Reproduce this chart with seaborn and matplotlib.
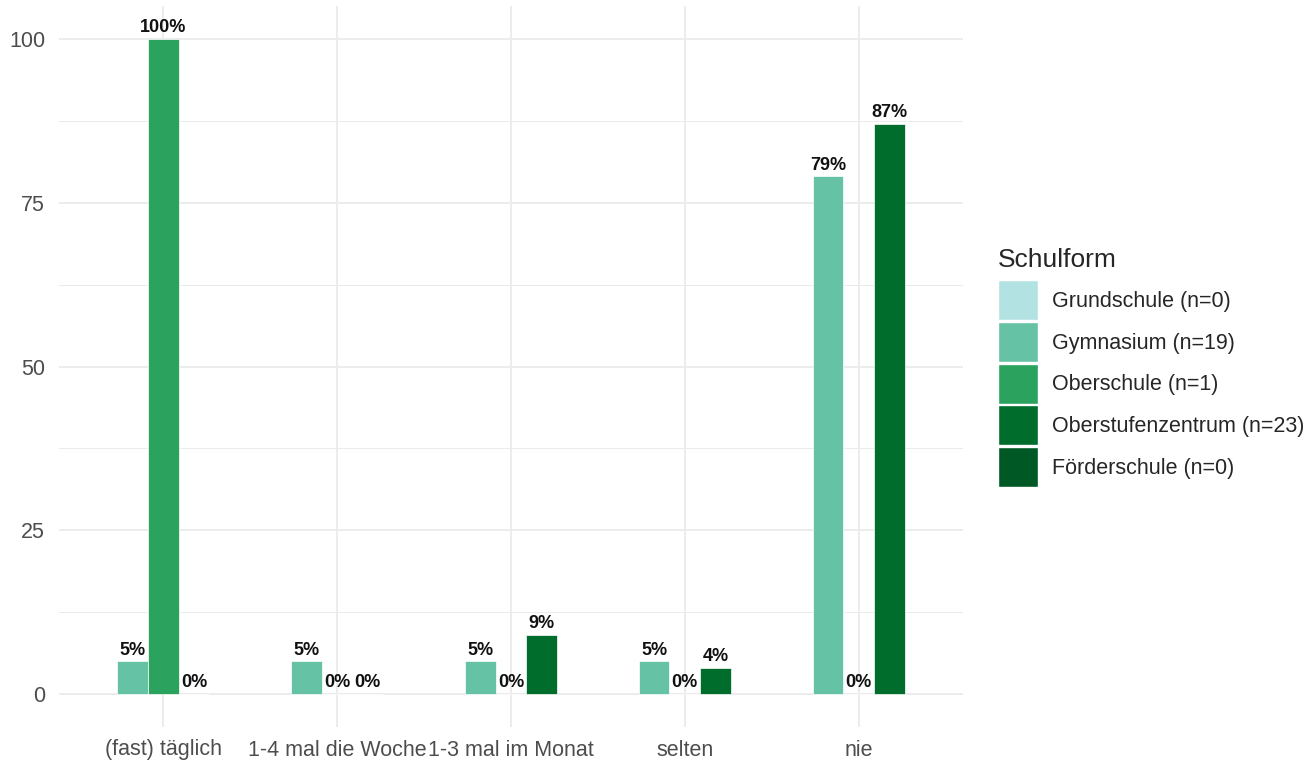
import matplotlib
matplotlib.use("Agg")
import matplotlib.pyplot as plt
import matplotlib.patches as mpatches
import pandas as pd
import seaborn as sns

# ===== Daten =====
KATEGORIEN = ["(fast) täglich", "1-4 mal die Woche", "1-3 mal im Monat", "selten", "nie"]
GYMNASIUM = [5, 5, 5, 5, 79]
OBERSCHULE = [100, 0, 0, 0, 0]
OSZ = [0, 0, 9, 4, 87]

SCHULFORMEN = ["Grundschule (n=0)", "Gymnasium (n=19)", "Oberschule (n=1)",
               "Oberstufenzentrum (n=23)", "Förderschule (n=0)"]
FARBEN = ["#b2e2e2", "#66c2a4", "#2ca25f", "#006d2c", "#005824"]
Y_TICKS = [0, 25, 50, 75, 100]

# long format, nur Schulformen mit Daten
rows = []
for name, vals in [(SCHULFORMEN[1], GYMNASIUM), (SCHULFORMEN[2], OBERSCHULE), (SCHULFORMEN[3], OSZ)]:
    for kat, v in zip(KATEGORIEN, vals):
        rows.append({"Kategorie": kat, "Schulform": name, "Prozent": v})
df = pd.DataFrame(rows)
present = [SCHULFORMEN[1], SCHULFORMEN[2], SCHULFORMEN[3]]
palette = dict(zip(SCHULFORMEN, FARBEN))

sns.set_style("white")
plt.rcParams["font.family"] = ["Liberation Sans", "DejaVu Sans"]

fig = plt.figure(figsize=(13.15, 7.63), dpi=100)
ax = fig.add_axes([59 / 1315, 1 - 727 / 763, (963 - 59) / 1315, (727 - 6) / 763])

sns.barplot(data=df, x="Kategorie", y="Prozent", hue="Schulform", order=KATEGORIEN,
            hue_order=present, palette=palette, width=0.53, saturation=1, legend=False,
            edgecolor="white", linewidth=0.5, ax=ax, zorder=3)

for cont, name in zip(ax.containers, present):
    vals = df[df["Schulform"] == name].set_index("Kategorie").loc[KATEGORIEN, "Prozent"]
    ax.bar_label(cont, labels=[f"{v}%" for v in vals], padding=2,
                 fontsize=13, fontweight="bold", color="#111111", zorder=4)

# ggplot-artige Gitterlinien
ax.set_ylim(-5, 105)
ax.set_xlim(-0.6, 4.6)
ax.set_yticks(Y_TICKS)
ax.set_yticks([12.5, 37.5, 62.5, 87.5], minor=True)
ax.grid(True, which="major", color="#ebebeb", linewidth=1.3, zorder=0)
ax.grid(True, which="minor", axis="y", color="#ebebeb", linewidth=0.7, zorder=0)
ax.set_axisbelow(True)
for s in ax.spines.values():
    s.set_visible(False)
ax.tick_params(axis="both", which="both", length=0, labelsize=15.5, labelcolor="#4d4d4d")
ax.tick_params(axis="x", pad=9)
ax.tick_params(axis="y", pad=10)
ax.set_xlabel("")
ax.set_ylabel("")

handles = [mpatches.Patch(facecolor=c, edgecolor="white", linewidth=1) for c in FARBEN]
leg = fig.legend(handles, SCHULFORMEN, title="Schulform", loc="upper left",
                 bbox_to_anchor=(998 / 1315, 1 - 248 / 763), frameon=False,
                 fontsize=15.5, title_fontsize=19, handlelength=1.86, handleheight=2.48,
                 labelspacing=0.08, handletextpad=0.65, borderpad=0, borderaxespad=0)
leg._legend_box.align = "left"
leg._legend_box.sep = 6

fig.savefig("out.png", dpi=100)
